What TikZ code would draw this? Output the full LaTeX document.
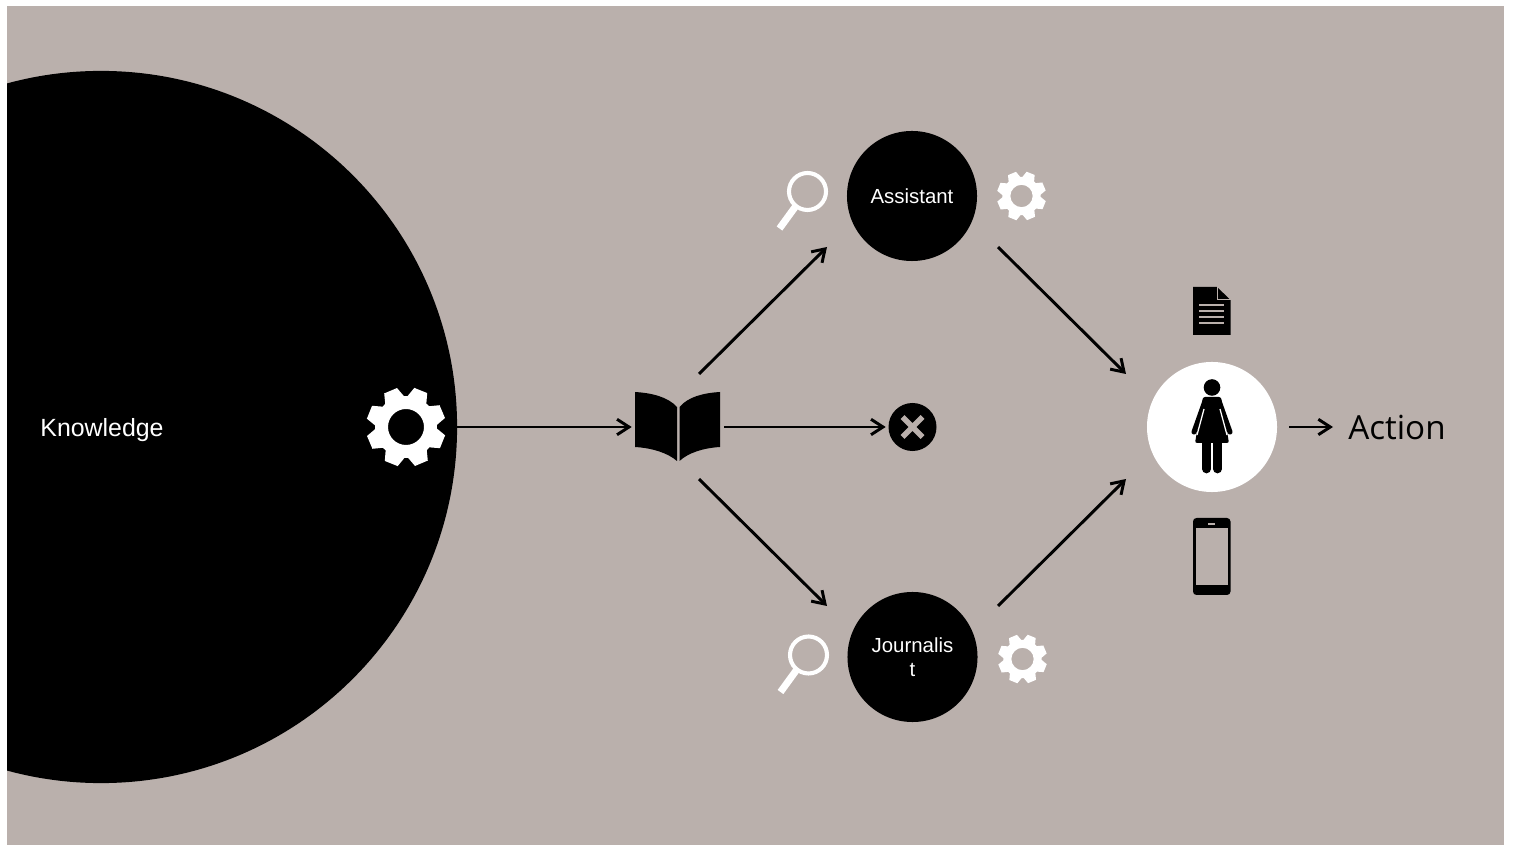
\documentclass[tikz,border=0pt]{standalone}
\usepackage{fontspec}
\setmainfont{Liberation Sans}
\newfontfamily\actionfont{Open Sans}
\usepackage{xcolor}
\usetikzlibrary{arrows.meta,positioning,calc}
\definecolor{slideback}{HTML}{BAB0AC}

\tikzset{
  gear/.pic={
    \fill[white, even odd rule] (3:31)
      \foreach \a in {22,67,112,157,202,247,292,337} {
        -- (\a-19:31) -- (\a-10:40) -- (\a+10:40) -- (\a+19:31)
      } -- cycle (0,0) circle (18);
  },
  lens/.pic={
    \draw[white, line width=2.9pt] (0,0) circle (18.5);
    \draw[white, line width=5pt] (-12,15) -- (-28,37);
  },
  disc/.style={circle, fill=black, inner sep=0pt, minimum size=3.25cm, text=white,
        align=center, font=\fontsize{14.5}{17}\selectfont},
  link/.style={->, line width=2.1pt},
}

\begin{document}
\begin{tikzpicture}[x=0.025cm, y=-0.025cm, >={Straight Barb[length=8.5pt,width=11pt]}]
  \useasboundingbox (0,0) rectangle (1514,845);
  \fill[slideback] (7,6) rectangle (1504,845);

  % Knowledge
  \begin{scope}
    \clip (7,6) rectangle (1504,845);
    \node[circle, fill=black, inner sep=0pt, minimum size=17.8cm] (K) at (101,427) {};
  \end{scope}
  \node[text=white, font=\fontsize{17.7}{21}\selectfont] (KT) at (102,430) {Knowledge};
  \pic (KG) at (406,427) {gear};

  % Book
  \node[inner sep=0pt, minimum width=2.3cm, minimum height=1.75cm] (B) at (678,427) {};
  \fill (635,392) .. controls (652,393) and (668,397) .. (677,407) -- (677,461)
    .. controls (668,453) and (652,448) .. (635,447) -- cycle;
  \fill (720,392) .. controls (703,393) and (688,397) .. (679.5,407) -- (679.5,461)
    .. controls (688,453) and (703,448) .. (720,447) -- cycle;
  \coordinate (BU) at (699,374);
  \coordinate (BD) at (699,479);

  % Dropped
  \node[circle, fill=black, inner sep=0pt, minimum size=1.2cm, outer sep=0.07cm] (X) at (912.5,427) {};
  \draw[slideback, line width=4pt] (902.5,417) -- (922.5,437) (922.5,417) -- (902.5,437);

  % Assistant
  \node[disc] (A) at (912,196) {Assistant};
  \pic (AL) at (807.5,191.5) {lens};
  \pic[scale=0.62] (AG) at (1021.5,196) {gear};
  \coordinate (AI) at (827,247);
  \coordinate (AO) at (998,247);

  % Journalist
  \node[disc] (J) at (912.5,657) {Journalis\\t};
  \pic (JL) at (808.5,655) {lens};
  \pic[scale=0.62] (JG) at (1022.5,659) {gear};
  \coordinate (JI) at (827,606);
  \coordinate (JO) at (998,606);

  % Reader
  \node[circle, fill=white, inner sep=0pt, minimum size=3.25cm] (R) at (1212,427) {};
  \fill (1212,387.5) circle (8.3);
  \fill[rounded corners=1.5pt] (1203,397) -- (1221,397) -- (1229,443) -- (1195,443) -- cycle;
  \draw[line width=3.6pt, line cap=round] (1205,401) -- (1194,432) (1219,401) -- (1230,432);
  \draw[white, line width=0.9pt] (1204,409) -- (1197,435) (1220,409) -- (1227,435);
  \draw[line width=6.2pt, line cap=round] (1206.5,440) -- (1206.5,469) (1217.5,440) -- (1217.5,469);
  \coordinate (RUp) at (1126,374);
  \coordinate (RDn) at (1126,479);

  % Document
  \fill (1193,287) -- (1217,287) -- (1230.5,300) -- (1230.5,335) -- (1193,335) -- cycle;
  \draw[slideback, line width=0.8pt] (1217.5,286) -- (1217.5,299.5) -- (1231,299.5);
  \draw[slideback, line width=1.7pt] (1199,305) -- (1224,305) (1199,311) -- (1224,311)
    (1199,317) -- (1224,317) (1199,323) -- (1224,323);

  % Phone
  \fill[rounded corners=2.5pt] (1193,518) rectangle (1230.5,595);
  \fill[slideback] (1196,528) rectangle (1228,585);
  \fill[slideback] (1208,523) rectangle (1215,525);

  % Action
  \node[anchor=west, inner xsep=0.375cm, inner ysep=0pt, font=\actionfont\fontsize{23.6}{28}\selectfont] (Act) at (1333,427) {Action};

  % Connectors
  \draw[link] (K.east) -- (B.west);
  \draw[link] (B.east) -- (X.west);
  \draw[link] (BU) -- (AI);
  \draw[link] (BD) -- (JI);
  \draw[link] (AO) -- (RUp);
  \draw[link] (JO) -- (RDn);
  \draw[link, shorten <=0.3cm] (R.east) -- (Act.west);
\end{tikzpicture}
\end{document}
